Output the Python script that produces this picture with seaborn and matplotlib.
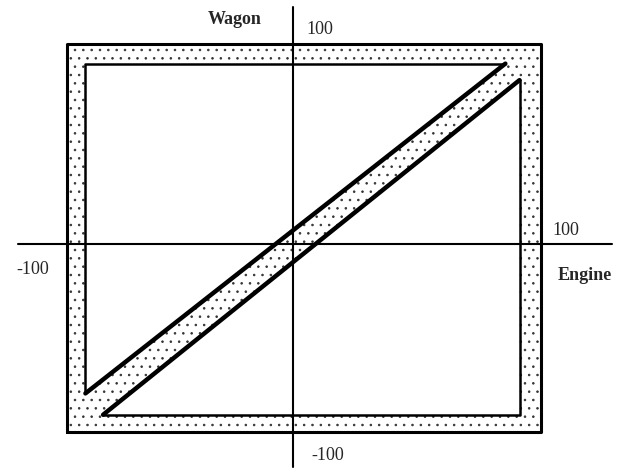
import seaborn as sns
import matplotlib.pyplot as plt

# outer frame of the feasible region
outer_x = [-96, 105, 105, -96, -96]
outer_y = [-97, -97, 103, 103, -97]
# upper-left empty triangle
upper_x = [-88, -88, 90, -88]
upper_y = [-77, 93, 93, -77]
# lower-right empty triangle
lower_x = [-80.5, 96, 96, -80.5]
lower_y = [-88, 84.5, -88, -88]

sns.set_theme(style='white')
plt.rcParams['font.family'] = ['Liberation Serif', 'DejaVu Serif']
plt.rcParams['hatch.linewidth'] = 0.6

fig = plt.figure(figsize=(6.29, 4.71), dpi=100)
ax = fig.add_axes([0, 0, 1, 1])
ax.set_xlim(-124.2, 142.4)
ax.set_ylim(-117.0, 125.8)
ax.axis('off')

# stippled band
ax.fill(outer_x, outer_y, facecolor='white', edgecolor='#333333',
        hatch='..', linewidth=0, zorder=1)
ax.fill(upper_x, upper_y, facecolor='white', linewidth=0, zorder=2)
ax.fill(lower_x, lower_y, facecolor='white', linewidth=0, zorder=2)

# coordinate axes
ax.plot([-116.5, 135.2], [0, 0], color='black', lw=1.5, zorder=3)
ax.plot([0, 0], [-115, 122], color='black', lw=1.5, zorder=3)

# outlines
sns.lineplot(x=outer_x, y=outer_y, sort=False, estimator=None,
             color='black', lw=2.2, ax=ax, zorder=4)
sns.lineplot(x=upper_x[:3], y=upper_y[:3], sort=False, estimator=None,
             color='black', lw=1.8, ax=ax, zorder=4)
sns.lineplot(x=upper_x[2:], y=upper_y[2:], sort=False, estimator=None,
             color='black', lw=3.2, ax=ax, zorder=4)
sns.lineplot(x=lower_x[:2], y=lower_y[:2], sort=False, estimator=None,
             color='black', lw=3.2, ax=ax, zorder=4)
sns.lineplot(x=lower_x[1:], y=lower_y[1:], sort=False, estimator=None,
             color='black', lw=1.8, ax=ax, zorder=4)

# labels
ax.text(-24.6, 115.5, 'Wagon', fontsize=13, fontweight='bold',
        ha='center', va='center')
ax.text(123.7, -16, 'Engine', fontsize=13, fontweight='bold',
        ha='center', va='center')
ax.text(11.2, 110.6, '100', fontsize=13, ha='center', va='center')
ax.text(14.8, -108.8, '-100', fontsize=13, ha='center', va='center')
ax.text(-110.2, -12.9, '-100', fontsize=13, ha='center', va='center')
ax.text(115.7, 7.2, '100', fontsize=13, ha='center', va='center')

fig.savefig('out.png', dpi=100)
